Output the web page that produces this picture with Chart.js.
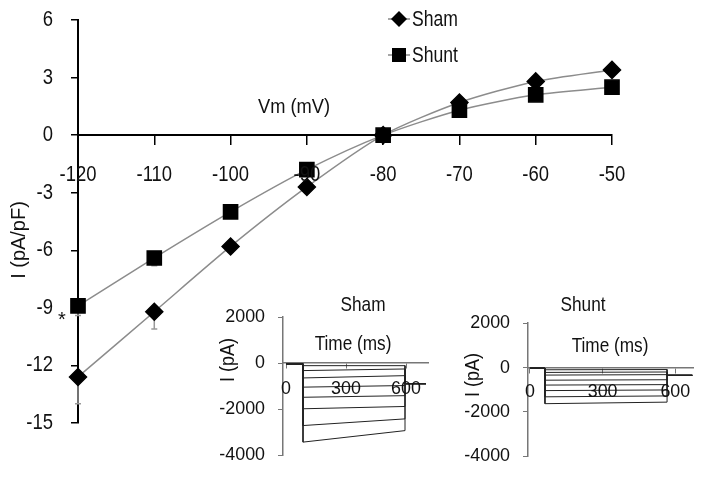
<!DOCTYPE html>
<html>
<head>
<meta charset="utf-8">
<script src="https://cdn.jsdelivr.net/npm/chart.js@4.4.1/dist/chart.umd.min.js"></script>
<style>
  body { margin: 0; background: #fff; }
  #wrap { position: relative; width: 720px; height: 490px; }
  canvas { position: absolute; }
</style>
</head>
<body>
<div id="wrap">
  <canvas id="main" width="720" height="490" style="left:0;top:0"></canvas>
  <canvas id="insetSham" width="240" height="200" style="left:200px;top:290px"></canvas>
  <canvas id="insetShunt" width="280" height="200" style="left:440px;top:290px"></canvas>
</div>
<script>
var FONT = "'Liberation Sans', Arial, sans-serif";

// I-V relation (pA/pF)
var vm = [-120, -110, -100, -90, -80, -70, -60, -50];
var sham = [-12.6, -9.2, -5.8, -2.7, 0, 1.7, 2.8, 3.4];
var shunt = [-8.9, -6.4, -4.0, -1.8, 0, 1.3, 2.1, 2.5];
var shamErr = [1.4, 0.9, 0.3, 0.3, 0, 0.2, 0.2, 0.2];
var shuntErr = [0.5, 0.4, 0.3, 0.2, 0, 0.2, 0.2, 0.2];
var vmTicks = [-120, -110, -100, -90, -80, -70, -60, -50];
var iTicks = [-15, -12, -9, -6, -3, 0, 3, 6];

// current traces (pA) for the insets
var timeTicks = [0, 300, 600];
var pATicks = [-4000, -2000, 0, 2000];
var shamSweepStart = [-116, -330, -650, -1050, -1490, -1990, -2720, -3440];
var shamSweepEnd = [-116, -260, -550, -980, -1420, -1890, -2430, -2940];
var shamTimes = [0, 85, 595, 700];   // start, step on, step off, end
var shamTail = -900;
var shuntSweepStart = [-110, -230, -350, -580, -800, -1050, -1330, -1640];
var shuntSweepEnd = [-100, -210, -330, -560, -780, -1020, -1290, -1570];
var shuntTimes = [0, 62, 566, 670];
var shuntTail = -360;

// narrow-ish text: Liberation Sans squeezed horizontally
function drawText(c, text, x, y, size, sx, align, rot) {
  c.save();
  c.font = size + 'px ' + FONT;
  c.fillStyle = '#111';
  c.textAlign = align || 'center';
  c.textBaseline = 'middle';
  c.translate(x, y);
  if (rot) c.rotate(-Math.PI / 2);
  c.scale(sx, 1);
  c.fillText(text, 0, 0);
  c.restore();
}

var textPlugin = {
  id: 'texts',
  afterDraw: function (chart, args, opts) {
    var c = chart.ctx;
    (opts.items || []).forEach(function (t) {
      drawText(c, t.text, t.x, t.y, t.size, t.sx, 'center', t.rot);
    });
  }
};

// tick labels, placed from the scales' own ticks
var tickTextPlugin = {
  id: 'tickText',
  afterDraw: function (chart, args, opts) {
    var c = chart.ctx, xs = chart.scales.x, ys = chart.scales.y;
    var axisY = ys.getPixelForValue(0);
    xs.ticks.forEach(function (t) {
      drawText(c, String(t.value), xs.getPixelForValue(t.value), axisY + opts.dy, opts.size, opts.sx, 'center');
    });
    ys.ticks.forEach(function (t) {
      drawText(c, String(t.value), xs.left - opts.dx, ys.getPixelForValue(t.value), opts.size, opts.sx, 'right');
    });
  }
};

// lower error bars, under the markers
var errPlugin = {
  id: 'errBars',
  beforeDatasetsDraw: function (chart, args, opts) {
    var c = chart.ctx, xs = chart.scales.x, ys = chart.scales.y;
    c.save();
    c.strokeStyle = '#999';
    c.lineWidth = 1.5;
    opts.sets.forEach(function (s) {
      s.vals.forEach(function (v, i) {
        if (!s.err[i]) return;
        var px = xs.getPixelForValue(vm[i]);
        var y1 = ys.getPixelForValue(v), y2 = ys.getPixelForValue(v - s.err[i]);
        c.beginPath();
        c.moveTo(px, y1); c.lineTo(px, y2);
        c.moveTo(px - 3, y2); c.lineTo(px + 3, y2);
        c.stroke();
      });
    });
    c.restore();
  }
};

function marker(c, style, x, y) {
  c.beginPath();
  if (style === 'diamond') {
    c.moveTo(x, y - 8); c.lineTo(x + 8, y); c.lineTo(x, y + 8); c.lineTo(x - 8, y);
  } else {
    c.rect(x - 7, y - 7, 14, 14);
  }
  c.closePath();
  c.fill();
}

var legendPlugin = {
  id: 'ivLegend',
  afterDraw: function (chart, args, opts) {
    var c = chart.ctx;
    opts.items.forEach(function (it) {
      c.save();
      c.strokeStyle = '#888';
      c.lineWidth = 1.5;
      c.beginPath();
      c.moveTo(it.x - 11, it.y); c.lineTo(it.x + 11, it.y);
      c.stroke();
      c.fillStyle = '#000';
      marker(c, it.style, it.x, it.y);
      c.restore();
      drawText(c, it.text, it.x + 13, it.y + 1, 22, 0.8, 'left');
    });
  }
};

function fixedTicks(list) {
  return function (scale) {
    scale.ticks = list.map(function (v) { return { value: v }; });
  };
}

function pts(xs, ys) {
  return xs.map(function (x, i) { return { x: x, y: ys[i] }; });
}

new Chart(document.getElementById('main'), {
  type: 'line',
  data: {
    datasets: [
      {
        label: 'Shunt', data: pts(vm, shunt), clip: false,
        borderColor: '#8c8c8c', borderWidth: 1.5, tension: 0.25,
        pointStyle: 'rect', pointRadius: 10, pointBackgroundColor: '#000', pointBorderColor: '#000'
      },
      {
        label: 'Sham', data: pts(vm, sham), clip: false,
        borderColor: '#8c8c8c', borderWidth: 1.5, tension: 0.25,
        pointStyle: 'rectRot', pointRadius: 8.5, pointBackgroundColor: '#000', pointBorderColor: '#000'
      }
    ]
  },
  options: {
    responsive: false,
    animation: false,
    events: [],
    layout: { padding: { top: 20, right: 108, bottom: 67, left: 0 } },
    plugins: {
      legend: { display: false },
      tooltip: { enabled: false },
      tickText: { dx: 25, dy: 40, size: 22, sx: 0.84 },
      errBars: { sets: [{ vals: sham, err: shamErr }, { vals: shunt, err: shuntErr }] },
      ivLegend: {
        items: [
          { text: 'Sham', style: 'diamond', x: 399, y: 19 },
          { text: 'Shunt', style: 'square', x: 399, y: 55 }
        ]
      },
      texts: {
        items: [
          { text: 'Vm (mV)', x: 294, y: 107, size: 21, sx: 0.87 },
          { text: 'I (pA/pF)', x: 19, y: 240, size: 21, sx: 0.95, rot: true },
          { text: '*', x: 62, y: 320, size: 20, sx: 1 }
        ]
      }
    },
    scales: {
      x: {
        type: 'linear', position: { y: 0 }, min: -120, max: -50,
        afterBuildTicks: fixedTicks(vmTicks),
        grid: { drawOnChartArea: false, tickLength: 9, color: '#000', lineWidth: 1.5 },
        border: { color: '#000', width: 2 },
        ticks: { display: false }
      },
      y: {
        type: 'linear', min: -15, max: 6,
        afterBuildTicks: fixedTicks(iTicks),
        afterFit: function (s) { s.width = 78; },
        grid: { drawOnChartArea: false, tickLength: 7, color: '#000', lineWidth: 1.5 },
        border: { color: '#000', width: 2 },
        ticks: { display: false }
      }
    }
  },
  plugins: [textPlugin, tickTextPlugin, errPlugin, legendPlugin]
});

function insetChart(id, times, starts, ends, tail, opt) {
  var sets = starts.map(function (s, i) {
    return {
      data: pts([times[0], times[1], times[1], times[2], times[2], times[3]], [-40, -40, s, ends[i], tail, tail]),
      borderColor: '#222', borderWidth: 1, pointRadius: 0, tension: 0, clip: false
    };
  });
  return new Chart(document.getElementById(id), {
    type: 'line',
    data: { datasets: sets },
    options: {
      responsive: false,
      animation: false,
      events: [],
      layout: { padding: opt.padding },
      plugins: {
        legend: { display: false },
        tooltip: { enabled: false },
        tickText: { dx: 18, dy: opt.dy, size: 19, sx: 0.94 },
        texts: { items: opt.texts }
      },
      scales: {
        x: {
          type: 'linear', position: { y: 0 }, min: opt.xMin, max: opt.xMax,
          afterBuildTicks: fixedTicks(timeTicks),
          grid: { drawOnChartArea: false, tickLength: 5, color: '#777', lineWidth: 1 },
          border: { color: '#777', width: 1.5 },
          ticks: { display: false }
        },
        y: {
          type: 'linear', min: -4000, max: 2000,
          afterBuildTicks: fixedTicks(pATicks),
          afterFit: function (s) { s.width = opt.yWidth; },
          grid: { drawOnChartArea: false, tickLength: 5, color: '#777', lineWidth: 1 },
          border: { color: '#777', width: 1.5 },
          ticks: { display: false }
        }
      }
    },
    plugins: [textPlugin, tickTextPlugin]
  });
}

insetChart('insetSham', shamTimes, shamSweepStart, shamSweepEnd, shamTail, {
  xMin: -15, xMax: 710, yWidth: 83, dy: 26,
  padding: { top: 27, right: 12, bottom: 35, left: 0 },
  texts: [
    { text: 'Sham', x: 163, y: 15, size: 21, sx: 0.82 },
    { text: 'Time (ms)', x: 153, y: 54, size: 20, sx: 0.86 },
    { text: 'I (pA)', x: 28, y: 70, size: 20, sx: 0.9, rot: true }
  ]
});

insetChart('insetShunt', shuntTimes, shuntSweepStart, shuntSweepEnd, shuntTail, {
  xMin: -8, xMax: 673, yWidth: 88, dy: 24,
  padding: { top: 33, right: 27, bottom: 34, left: 0 },
  texts: [
    { text: 'Shunt', x: 143, y: 15, size: 21, sx: 0.82 },
    { text: 'Time (ms)', x: 170, y: 56, size: 20, sx: 0.86 },
    { text: 'I (pA)', x: 33, y: 85, size: 20, sx: 0.9, rot: true }
  ]
});
</script>
</body>
</html>
